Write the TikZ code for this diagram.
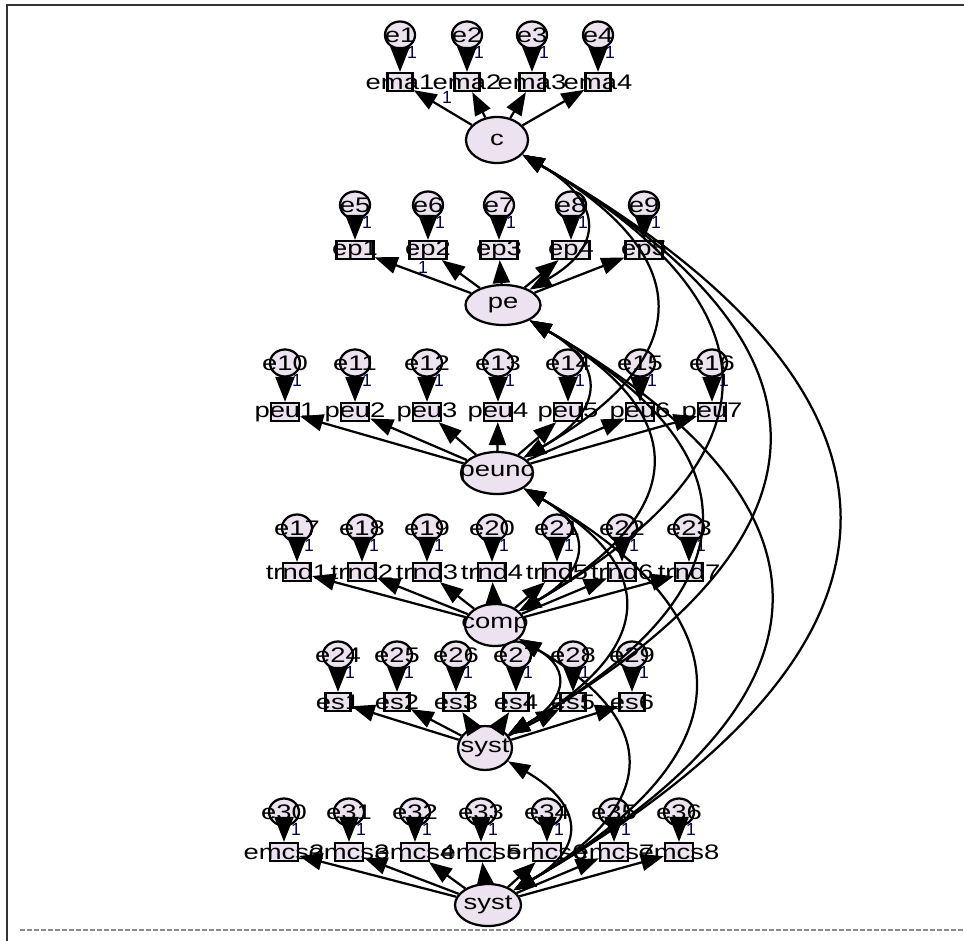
\documentclass[tikz,border=0pt]{standalone}
\usepackage{fontspec}
\setmainfont{Liberation Sans}
\newfontfamily\amosfont[FakeStretch=1.3]{Liberation Sans}
\usetikzlibrary{shapes.geometric, arrows.meta}
\definecolor{amosfill}{RGB}{236,226,240}

\begin{document}
\begin{tikzpicture}[
    x=0.2mm, y=0.2mm,
    font=\amosfont\fontsize{12}{14}\selectfont,
    err/.style={draw, ellipse, fill=amosfill, line width=0.45mm, minimum width=6mm, minimum height=5.4mm, inner sep=0pt, label=center:{#1}},
    obs/.style={draw, rectangle, fill=amosfill, line width=0.45mm, minimum width=5.6mm, minimum height=3.6mm, inner sep=0pt, label=center:{#1}},
    lat/.style={draw, ellipse, fill=amosfill, line width=0.45mm, inner sep=0pt, label=center:{#1}},
    one/.style={font=\fontsize{10}{10}\selectfont, text=blue!30!black, inner sep=0pt},
    earr/.style={-{Triangle[length=5mm, width=3.8mm]}, line width=0.45mm},
    load/.style={-{Triangle[length=4.6mm, width=3.4mm]}, line width=0.45mm},
    cov/.style={{Triangle[length=4.4mm, width=3.2mm]}-{Triangle[length=4.4mm, width=3.2mm]}, line width=0.45mm, out=-30, in=30, looseness=1.7},
]
\useasboundingbox (0,0) rectangle (964,-941);
\draw[line width=0.45mm, black!80] (7,-941) -- (7,-5) -- (964,-5);
\draw[black!45, line width=0.3mm, dash pattern=on 0.9mm off 0.5mm] (20,-930) -- (964,-930);

% latent variables
\node[lat=c, minimum width=12.4mm, minimum height=9.2mm] (c) at (497,-140) {};
\node[lat=pe, minimum width=15mm, minimum height=8mm] (pe) at (503,-305) {};
\node[lat=peunc, minimum width=14.4mm, minimum height=8.4mm] (peunc) at (497,-473) {};
\node[lat=comp, minimum width=12mm, minimum height=8.4mm] (comp) at (495,-625) {};
\node[lat=syst, minimum width=10.8mm, minimum height=8.8mm] (sat) at (485,-748) {};
\node[lat=syst, minimum width=13.2mm, minimum height=8.4mm] (syst) at (488,-905) {};

% indicators with their errors
\foreach \n/\x/\t in {1/400/ema1, 2/467/ema2, 3/532/ema3, 4/598/ema4} {
  \node[err=e\n] (e\n) at (\x,-35) {};
  \node[obs=\t, minimum width=5mm] (\t) at (\x,-82) {};
  \node[one] (one\n) at (\x+12,-52) {1};
  \draw[earr] (e\n) -- (\t);
  \draw[load] (c) -- (\t);
}
\foreach \n/\x/\t in {5/355/ep1, 6/428/ep2, 7/499/ep3, 8/571/ep4, 9/644/ep5} {
  \node[err=e\n] (e\n) at (\x,-205) {};
  \node[obs=\t, minimum width=7.4mm] (\t) at (\x,-250) {};
  \node[one] (one\n) at (\x+12,-222) {1};
  \draw[earr] (e\n) -- (\t);
  \draw[load] (pe) -- (\t);
}
\foreach \n/\x/\t in {10/285/peu1, 11/355/peu2, 12/427/peu3, 13/498/peu4, 14/568/peu5, 15/640/peu6, 16/712/peu7} {
  \node[err=e\n] (e\n) at (\x,-363) {};
  \node[obs=\t] (\t) at (\x,-412) {};
  \node[one] (one\n) at (\x+12,-380) {1};
  \draw[earr] (e\n) -- (\t);
  \draw[load] (peunc) -- (\t);
}
\foreach \n/\x/\t in {17/297/trnd1, 18/362/trnd2, 19/427/trnd3, 20/492/trnd4, 21/557/trnd5, 22/622/trnd6, 23/689/trnd7} {
  \node[err=e\n] (e\n) at (\x,-528) {};
  \node[obs=\t] (\t) at (\x,-572) {};
  \node[one] (one\n) at (\x+12,-545) {1};
  \draw[earr] (e\n) -- (\t);
  \draw[load] (comp) -- (\t);
}
\foreach \n/\x/\t in {24/338/es1, 25/397/es2, 26/456/es3, 27/516/es4, 28/573/es5, 29/632/es6} {
  \node[err=e\n] (e\n) at (\x,-655) {};
  \node[obs=\t, minimum width=5mm] (\t) at (\x,-702) {};
  \node[one] (one\n) at (\x+12,-672) {1};
  \draw[earr] (e\n) -- (\t);
  \draw[load] (sat) -- (\t);
}
\foreach \n/\x/\t in {30/284/emcs2, 31/349/emcs3, 32/415/emcs4, 33/481/emcs5, 34/547/emcs6, 35/614/emcs7, 36/679/emcs8} {
  \node[err=e\n] (e\n) at (\x,-812) {};
  \node[obs=\t] (\t) at (\x,-852) {};
  \node[one] (one\n) at (\x+12,-829) {1};
  \draw[earr] (e\n) -- (\t);
  \draw[load] (syst) -- (\t);
}
\node[one] (fixc) at (447,-97) {1};
\node[one] (fixpe) at (423,-267) {1};

% covariances
\foreach \a/\b in {c/pe, c/peunc, c/comp, c/sat, c/syst, pe/peunc, pe/comp, pe/sat, pe/syst,
    peunc/comp, peunc/sat, peunc/syst, comp/sat, comp/syst, sat/syst}
  \draw[cov] (\a) to (\b);
\end{tikzpicture}
\end{document}
